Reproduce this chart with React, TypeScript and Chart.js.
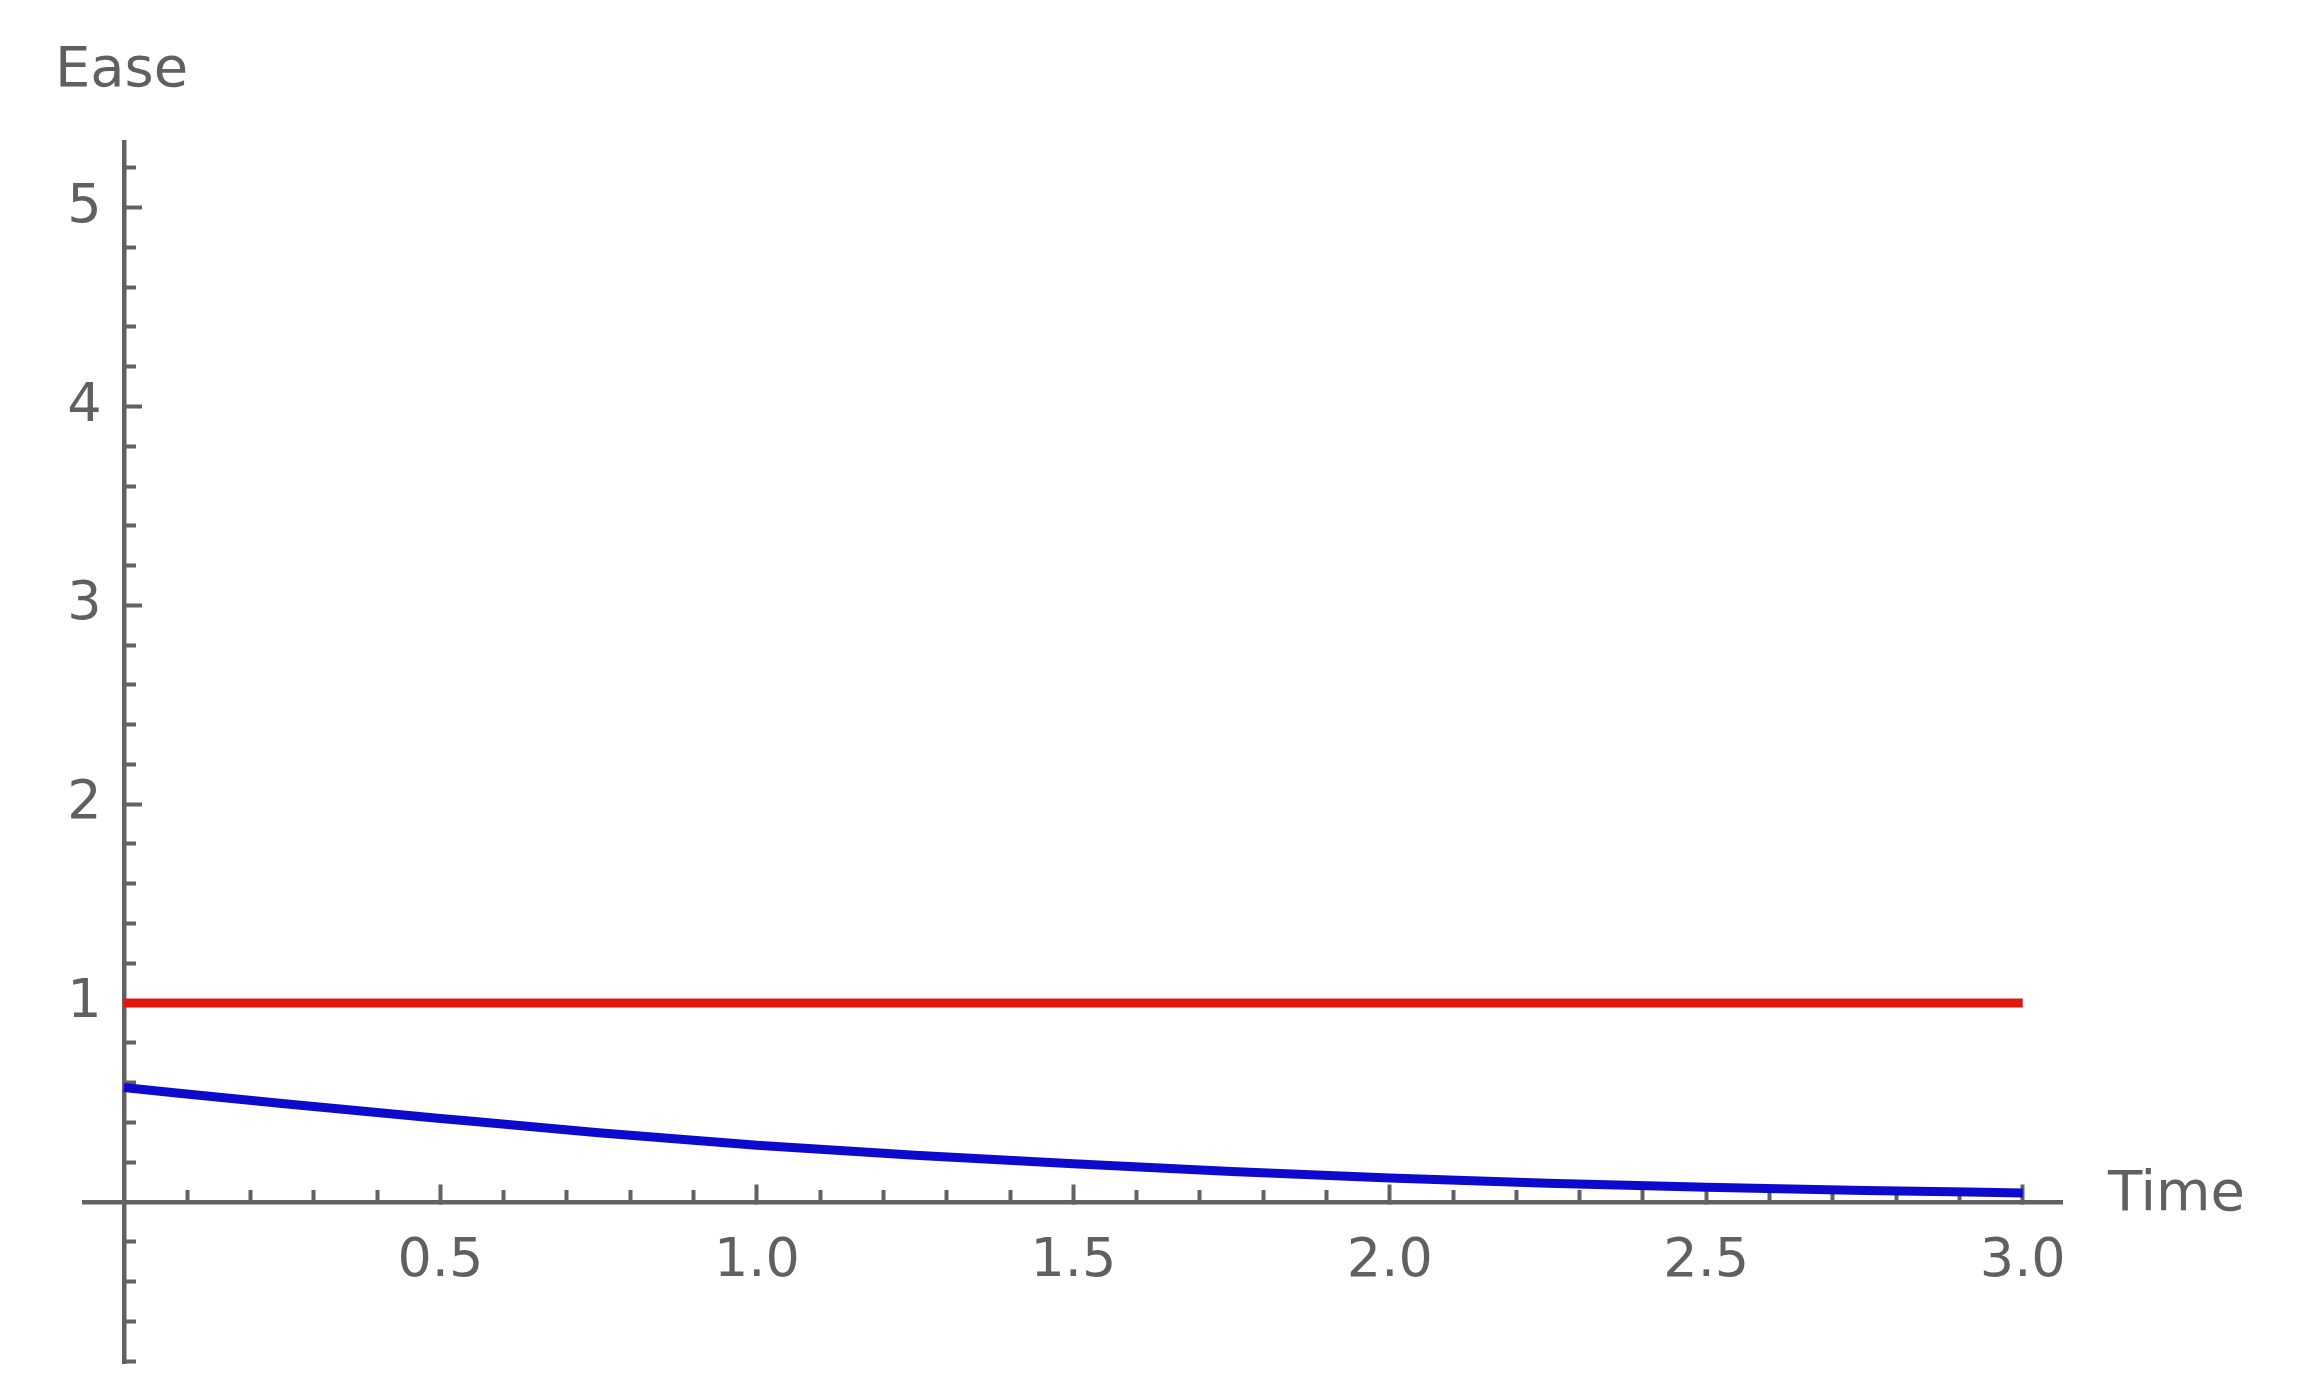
import React, { useEffect, useRef } from 'react';
import { Chart, registerables } from 'chart.js';

Chart.register(...registerables);

// ---- data ----
const timeValues = [0, 0.25, 0.5, 0.75, 1.0, 1.25, 1.5, 1.75, 2.0, 2.25, 2.5, 2.75, 3.0];
const easeBlue = [0.575, 0.495, 0.42, 0.348, 0.285, 0.235, 0.192, 0.153, 0.12, 0.094, 0.074, 0.058, 0.045];
const easeRed = [1, 1, 1, 1, 1, 1, 1, 1, 1, 1, 1, 1, 1];

const xMajorTicks = [0.5, 1.0, 1.5, 2.0, 2.5, 3.0];
const xMinorTicks = [0.1, 0.2, 0.3, 0.4, 0.6, 0.7, 0.8, 0.9, 1.1, 1.2, 1.3, 1.4, 1.6, 1.7, 1.8, 1.9, 2.1, 2.2, 2.3, 2.4, 2.6, 2.7, 2.8, 2.9];
const yMajorTicks = [1, 2, 3, 4, 5];
const yMinorTicks = [-0.8, -0.6, -0.4, -0.2, 0.2, 0.4, 0.6, 0.8, 1.2, 1.4, 1.6, 1.8, 2.2, 2.4, 2.6, 2.8, 3.2, 3.4, 3.6, 3.8, 4.2, 4.4, 4.6, 4.8, 5.2];

const xTitle = 'Time';
const yTitle = 'Ease';

const X_MIN = -0.063;
const X_MAX = 3.062;
const Y_MIN = -0.81;
const Y_MAX = 5.33;
const Y_LABEL_X = -0.035; // x value where the y tick labels end

const AXIS_COLOR = '#626262';
const TEXT_COLOR = '#606060';
const FONT_FAMILY = "'DejaVu Sans', sans-serif";

const zeroFit = (scale: any) => {
  if (scale.isHorizontal()) scale.height = 0;
  else scale.width = 0;
  scale.paddingLeft = 0;
  scale.paddingRight = 0;
  scale.paddingTop = 0;
  scale.paddingBottom = 0;
};

const setTicks = (values: number[]) => (scale: any) => {
  scale.ticks = values.map((value) => ({ value }));
};

const axisTitlePlugin = {
  id: 'axisTitles',
  afterDraw(chart: any) {
    const { ctx } = chart;
    const xs = chart.scales.x;
    const ys = chart.scales.y;
    const x0 = xs.getPixelForValue(0);
    const y0 = ys.getPixelForValue(0);
    ctx.save();
    ctx.fillStyle = TEXT_COLOR;
    ctx.font = `56px ${FONT_FAMILY}`;
    ctx.textAlign = 'left';
    ctx.textBaseline = 'middle';
    ctx.fillText(xTitle, xs.right + 46, y0 - 6);
    ctx.textBaseline = 'alphabetic';
    ctx.fillText(yTitle, x0 - 69, ys.top - 56);
    ctx.restore();
  },
};

export default function App() {
  const canvasRef = useRef<HTMLCanvasElement | null>(null);

  useEffect(() => {
    const canvas = canvasRef.current;
    if (!canvas) return;

    const blueData = timeValues.map((t, i) => ({ x: t, y: easeBlue[i] }));
    const redData = timeValues.map((t, i) => ({ x: t, y: easeRed[i] }));

    const tickFont = { family: FONT_FAMILY, size: 54 };

    const chart = new Chart(canvas, {
      type: 'line',
      data: {
        datasets: [
          {
            label: 'red',
            data: redData,
            borderColor: 'rgb(226,22,14)',
            borderWidth: 9,
            pointRadius: 0,
            fill: false,
          },
          {
            label: 'blue',
            data: blueData,
            borderColor: 'rgb(14,10,205)',
            borderWidth: 9,
            pointRadius: 0,
            fill: false,
            cubicInterpolationMode: 'monotone',
          },
        ],
      },
      options: {
        responsive: false,
        animation: false,
        devicePixelRatio: 1,
        layout: { padding: { left: 84, right: 238, top: 142, bottom: 30 } },
        plugins: {
          legend: { display: false },
          title: { display: false },
          tooltip: { enabled: false },
        },
        scales: {
          x: {
            type: 'linear',
            position: { y: 0 },
            min: X_MIN,
            max: X_MAX,
            bounds: 'data',
            afterBuildTicks: setTicks(xMajorTicks),
            afterFit: zeroFit,
            grid: { display: true, drawOnChartArea: false, drawTicks: true, tickLength: -20, tickWidth: 4, tickColor: AXIS_COLOR },
            border: { display: true, color: AXIS_COLOR, width: 4.5 },
            ticks: {
              autoSkip: false,
              maxRotation: 0,
              padding: 48,
              color: TEXT_COLOR,
              font: tickFont,
              callback: (v: any) => Number(v).toFixed(1),
            },
          },
          x2: {
            type: 'linear',
            axis: 'x',
            position: { y: 0 },
            min: X_MIN,
            max: X_MAX,
            bounds: 'data',
            afterBuildTicks: setTicks(xMinorTicks),
            afterFit: zeroFit,
            grid: { display: true, drawOnChartArea: false, drawTicks: true, tickLength: -12, tickWidth: 4, tickColor: AXIS_COLOR },
            border: { display: false },
            ticks: { display: false, autoSkip: false },
          },
          y: {
            type: 'linear',
            position: { x: 0 },
            min: Y_MIN,
            max: Y_MAX,
            bounds: 'data',
            afterBuildTicks: setTicks(yMajorTicks),
            afterFit: zeroFit,
            grid: { display: true, drawOnChartArea: false, drawTicks: true, tickLength: -20, tickWidth: 4, tickColor: AXIS_COLOR },
            border: { display: true, color: AXIS_COLOR, width: 4.5 },
            ticks: { display: false, autoSkip: false },
          },
          y2: {
            type: 'linear',
            axis: 'y',
            position: { x: 0 },
            min: Y_MIN,
            max: Y_MAX,
            bounds: 'data',
            afterBuildTicks: setTicks(yMinorTicks),
            afterFit: zeroFit,
            grid: { display: true, drawOnChartArea: false, drawTicks: true, tickLength: -12, tickWidth: 4, tickColor: AXIS_COLOR },
            border: { display: false },
            ticks: { display: false, autoSkip: false },
          },
          yLabels: {
            type: 'linear',
            axis: 'y',
            position: { x: Y_LABEL_X },
            min: Y_MIN,
            max: Y_MAX,
            bounds: 'data',
            afterBuildTicks: setTicks(yMajorTicks),
            afterFit: zeroFit,
            grid: { display: false, drawTicks: false },
            border: { display: false },
            ticks: {
              autoSkip: false,
              padding: 0,
              color: TEXT_COLOR,
              font: tickFont,
              callback: (v: any) => String(v),
            },
          },
        },
      } as any,
      plugins: [axisTitlePlugin],
    });

    return () => {
      chart.destroy();
    };
  }, []);

  return (
    <div style={{ position: 'fixed', left: 0, top: 0, width: 2300, height: 1393, background: '#ffffff' }}>
      <canvas ref={canvasRef} width={2300} height={1393} style={{ display: 'block', width: 2300, height: 1393 }} />
    </div>
  );
}
